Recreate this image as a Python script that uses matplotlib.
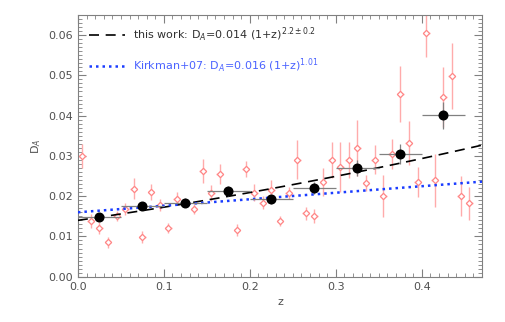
import numpy as np
import matplotlib
matplotlib.use('Agg')
import matplotlib.pyplot as plt
from matplotlib.ticker import MultipleLocator

# individual measurements (pink)
z_ind = [0.005, 0.015, 0.025, 0.035, 0.045, 0.055, 0.065, 0.075, 0.085, 0.095,
         0.105, 0.115, 0.135, 0.145, 0.155, 0.165, 0.185, 0.195, 0.205, 0.215,
         0.225, 0.235, 0.245, 0.255, 0.265, 0.275, 0.285, 0.295, 0.305, 0.315,
         0.325, 0.335, 0.345, 0.355, 0.365, 0.375, 0.385, 0.395, 0.405, 0.415,
         0.425, 0.435, 0.445, 0.455]
da_ind = [0.0299, 0.0139, 0.0120, 0.0085, 0.0151, 0.0169, 0.0219, 0.0098, 0.0210, 0.0179,
          0.0121, 0.0194, 0.0168, 0.0262, 0.0208, 0.0254, 0.0116, 0.0268, 0.0209, 0.0184,
          0.0215, 0.0138, 0.0209, 0.0291, 0.0157, 0.0150, 0.0235, 0.0289, 0.0272, 0.0289,
          0.0320, 0.0232, 0.0291, 0.0200, 0.0305, 0.0454, 0.0332, 0.0235, 0.0606, 0.0239,
          0.0446, 0.0499, 0.0200, 0.0183]
err_ind = [0.0030, 0.0017, 0.0015, 0.0013, 0.0012, 0.0015, 0.0025, 0.0015, 0.0020, 0.0015,
           0.0012, 0.0017, 0.0012, 0.0030, 0.0020, 0.0025, 0.0015, 0.0020, 0.0020, 0.0017,
           0.0025, 0.0012, 0.0015, 0.0048, 0.0017, 0.0017, 0.0035, 0.0045, 0.0062, 0.0045,
           0.0069, 0.0020, 0.0037, 0.0052, 0.0037, 0.0070, 0.0055, 0.0037, 0.0060, 0.0066,
           0.0074, 0.0082, 0.0050, 0.0041]

# binned values (black)
z_bin = [0.025, 0.075, 0.125, 0.175, 0.225, 0.275, 0.325, 0.375, 0.425]
da_bin = [0.0149, 0.0176, 0.0184, 0.0213, 0.0192, 0.0221, 0.0270, 0.0304, 0.0401]
err_bin = [0.0010, 0.0010, 0.0012, 0.0012, 0.0012, 0.0015, 0.0020, 0.0025, 0.0033]
zerr_bin = [0.025] * 9

# fits: D_A = amp * (1+z)^slope
fit_amp = [0.014, 0.016]
fit_slope = [2.2, 1.01]
fit_labels = [r'this work: D$_A$=0.014 (1+z)$^{2.2\pm0.2}$',
              r'Kirkman+07: D$_A$=0.016 (1+z)$^{1.01}$']

plt.rcParams['font.family'] = 'DejaVu Sans'
fig = plt.figure(figsize=(5.06, 3.22), dpi=100)
ax = fig.add_axes([0.154, 0.1407, 0.7986, 0.8127])

ax.errorbar(z_ind, da_ind, yerr=err_ind, xerr=0.004, fmt='D', ms=3.2, mfc='white',
            mec='#ff8585', mew=0.9, ecolor='#ffabab', elinewidth=1.0, capsize=0, zorder=2)
ax.errorbar(z_bin, da_bin, yerr=err_bin, xerr=zerr_bin, fmt='o', ms=6.2, color='black',
            ecolor='#808080', elinewidth=0.9, capsize=0, zorder=4)

zz = np.linspace(0, 0.47, 100)
ax.plot(zz, fit_amp[0] * (1 + zz) ** fit_slope[0], color='black', ls=(0, (6, 4)), lw=1.2,
        label=fit_labels[0], zorder=3)
ax.plot(zz, fit_amp[1] * (1 + zz) ** fit_slope[1], color='#1a3cff', ls=(0, (1, 1.6)), lw=1.8,
        label=fit_labels[1], zorder=3)

ax.set_xlim(0, 0.47)
ax.set_ylim(0, 0.065)
ax.xaxis.set_major_locator(MultipleLocator(0.1))
ax.xaxis.set_minor_locator(MultipleLocator(0.01))
ax.yaxis.set_major_locator(MultipleLocator(0.01))
ax.yaxis.set_minor_locator(MultipleLocator(0.001))
ax.xaxis.set_major_formatter(plt.FormatStrFormatter('%.1f'))
ax.yaxis.set_major_formatter(plt.FormatStrFormatter('%.2f'))
ax.tick_params(which='both', direction='in', top=True, right=True, color='#808080',
               labelsize=8, labelcolor='#505050')
ax.tick_params(which='major', length=6, width=0.8)
ax.tick_params(which='minor', length=3, width=0.6)
for s in ax.spines.values():
    s.set_color('#808080')
    s.set_linewidth(0.8)

ax.set_xlabel('z', fontsize=8, color='#505050')
ax.set_ylabel('D$_A$', fontsize=8, color='#505050')

ax.legend(loc='upper left', frameon=False, fontsize=8, handlelength=3.2,
          labelcolor=['#303030', '#4a62ff'], borderaxespad=0.6, labelspacing=1.1)

fig.savefig('out.png', dpi=100)
